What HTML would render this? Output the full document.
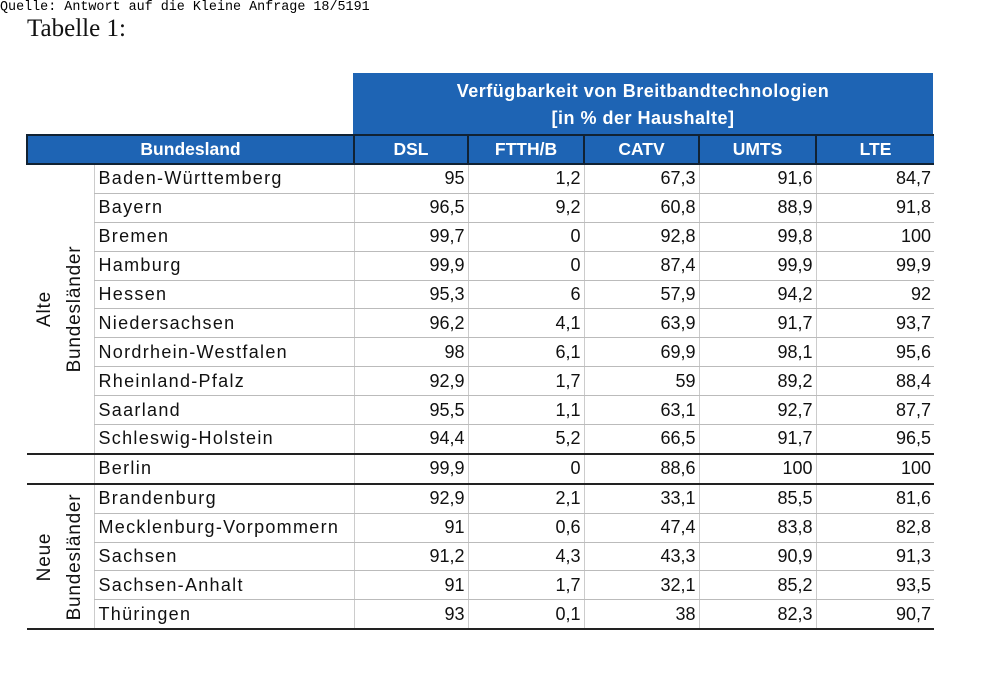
<!DOCTYPE html>
<html><head><meta charset="utf-8"><style>
body{margin:0;background:#fff;width:989px;height:676px;position:relative;overflow:hidden}
.q{position:absolute;left:0;top:0;font:13.4px "Liberation Mono",monospace;color:#000}
.t{position:absolute;left:27px;top:15px;font:25px "Liberation Serif",serif;color:#111}
.top{position:absolute;left:353px;top:73px;width:580px;height:61px;background:#1e64b4;color:#fff;font:bold 18px "Liberation Sans",sans-serif;letter-spacing:0.5px;text-align:center;line-height:27px;padding-top:5px;box-sizing:border-box}
table{position:absolute;left:26px;top:134px;width:907px;border-collapse:collapse;table-layout:fixed;font:18px "Liberation Sans",sans-serif;color:#111}
th{background:#1e64b4;color:#fff;font-weight:bold;font-size:17.5px;height:27px;padding:0;border-left:2px solid #123;border-top:2px solid #123;border-bottom:2px solid #123;overflow:hidden}
td{height:27.9px;padding:0 3px;border-bottom:1px solid #bbb;border-left:1px solid #ccc;text-align:right;overflow:hidden;white-space:nowrap}
td.n{text-align:left;padding-left:4px;letter-spacing:1.3px}
td.v{border-left:none;padding:0;border-bottom:none;position:relative}
.rot{position:absolute;left:50%;top:50%;transform:translate(-50%,-50%) rotate(-90deg);white-space:nowrap;line-height:30px;font-size:19px;letter-spacing:0.8px;text-align:center}
tr.thick td{border-bottom:2px solid #222}
td.vb{border-bottom:2px solid #222}
</style></head><body>
<div class="q">Quelle: Antwort auf die Kleine Anfrage 18/5191</div>
<div class="t">Tabelle 1:</div>
<div class="top">Verfügbarkeit von Breitbandtechnologien<br>[in % der Haushalte]</div>
<table>
<colgroup><col style="width:67px"><col style="width:260px"><col style="width:114px"><col style="width:116px"><col style="width:115px"><col style="width:117px"><col style="width:118px"></colgroup>
<tr><th colspan="2">Bundesland</th><th>DSL</th><th>FTTH/B</th><th>CATV</th><th>UMTS</th><th>LTE</th></tr>
<tr><td class="v vb" rowspan="10"><div class="rot">Alte<br>Bundesländer</div></td><td class="n">Baden-Württemberg</td><td>95</td><td>1,2</td><td>67,3</td><td>91,6</td><td>84,7</td></tr>
<tr><td class="n">Bayern</td><td>96,5</td><td>9,2</td><td>60,8</td><td>88,9</td><td>91,8</td></tr>
<tr><td class="n">Bremen</td><td>99,7</td><td>0</td><td>92,8</td><td>99,8</td><td>100</td></tr>
<tr><td class="n">Hamburg</td><td>99,9</td><td>0</td><td>87,4</td><td>99,9</td><td>99,9</td></tr>
<tr><td class="n">Hessen</td><td>95,3</td><td>6</td><td>57,9</td><td>94,2</td><td>92</td></tr>
<tr><td class="n">Niedersachsen</td><td>96,2</td><td>4,1</td><td>63,9</td><td>91,7</td><td>93,7</td></tr>
<tr><td class="n">Nordrhein-Westfalen</td><td>98</td><td>6,1</td><td>69,9</td><td>98,1</td><td>95,6</td></tr>
<tr><td class="n">Rheinland-Pfalz</td><td>92,9</td><td>1,7</td><td>59</td><td>89,2</td><td>88,4</td></tr>
<tr><td class="n">Saarland</td><td>95,5</td><td>1,1</td><td>63,1</td><td>92,7</td><td>87,7</td></tr>
<tr class="thick"><td class="n">Schleswig-Holstein</td><td>94,4</td><td>5,2</td><td>66,5</td><td>91,7</td><td>96,5</td></tr>
<tr class="thick"><td class="v vb"></td><td class="n">Berlin</td><td>99,9</td><td>0</td><td>88,6</td><td>100</td><td>100</td></tr>
<tr><td class="v vb" rowspan="5"><div class="rot">Neue<br>Bundesländer</div></td><td class="n">Brandenburg</td><td>92,9</td><td>2,1</td><td>33,1</td><td>85,5</td><td>81,6</td></tr>
<tr><td class="n">Mecklenburg-Vorpommern</td><td>91</td><td>0,6</td><td>47,4</td><td>83,8</td><td>82,8</td></tr>
<tr><td class="n">Sachsen</td><td>91,2</td><td>4,3</td><td>43,3</td><td>90,9</td><td>91,3</td></tr>
<tr><td class="n">Sachsen-Anhalt</td><td>91</td><td>1,7</td><td>32,1</td><td>85,2</td><td>93,5</td></tr>
<tr class="thick"><td class="n">Thüringen</td><td>93</td><td>0,1</td><td>38</td><td>82,3</td><td>90,7</td></tr>
</table>
</body></html>
